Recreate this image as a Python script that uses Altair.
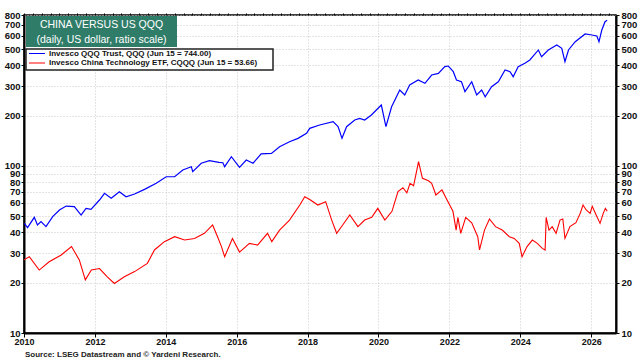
import altair as alt
import pandas as pd

# ---- data (decimal year, value) ----
qqq_years = [2010.01, 2010.10, 2010.29, 2010.38, 2010.48, 2010.62, 2010.81, 2011.00, 2011.19, 2011.42,
             2011.61, 2011.75, 2011.89, 2012.13, 2012.27, 2012.46, 2012.69, 2012.88, 2013.12, 2013.40,
             2013.73, 2014.01, 2014.25, 2014.48, 2014.72, 2014.76, 2015.00, 2015.23, 2015.50, 2015.61,
             2015.66, 2015.85, 2016.08, 2016.27, 2016.46, 2016.69, 2016.98, 2017.21, 2017.49, 2017.73,
             2017.97, 2018.06, 2018.34, 2018.72, 2018.86, 2018.97, 2019.10, 2019.33, 2019.47, 2019.61,
             2019.80, 2020.08, 2020.21, 2020.37, 2020.60, 2020.74, 2020.88, 2021.12, 2021.31, 2021.50,
             2021.69, 2021.87, 2021.97, 2022.11, 2022.20, 2022.34, 2022.44, 2022.63, 2022.77, 2022.91,
             2023.01, 2023.19, 2023.38, 2023.57, 2023.71, 2023.80, 2023.94, 2024.13, 2024.27, 2024.51,
             2024.60, 2024.79, 2025.03, 2025.17, 2025.26, 2025.36, 2025.55, 2025.83, 2026.02, 2026.16,
             2026.22, 2026.30, 2026.39, 2026.45]
qqq_values = [45.3, 42.7, 49.2, 44.3, 46.4, 43.3, 49.7, 54.5, 57.5, 57.0,
              50.8, 55.7, 55.0, 62.5, 68.5, 64.0, 70.1, 65.4, 67.9, 72.4,
              78.7, 86.1, 86.1, 94.5, 98.9, 92.3, 103.7, 107.5, 105.0, 104.5,
              98.9, 113.5, 98.1, 108.5, 103.7, 117.9, 118.9, 130.3, 139.6, 146.2,
              156.6, 167.8, 175.7, 183.9, 171.7, 146.2, 171.7, 188.2, 192.6, 188.2,
              201.7, 231.4, 171.7, 226.0, 284.5, 265.6, 304.8, 326.6, 312.0, 349.9,
              357.9, 392.6, 396.0, 366.3, 326.6, 319.0, 278.0, 319.0, 265.6, 284.5,
              259.4, 297.8, 319.0, 374.9, 366.3, 342.0, 392.6, 411.0, 430.5, 494.0,
              450.3, 494.0, 529.0, 505.4, 420.4, 494.0, 553.6, 615.7, 607.3, 599.0,
              553.6, 650.4, 729.5, 744.0]

cqqq_years = [2010.00, 2010.15, 2010.43, 2010.71, 2011.05, 2011.34, 2011.56, 2011.73, 2011.90, 2012.13,
              2012.35, 2012.55, 2012.83, 2013.12, 2013.48, 2013.68, 2013.96, 2014.25, 2014.53, 2014.81,
              2015.09, 2015.32, 2015.46, 2015.57, 2015.66, 2015.88, 2016.08, 2016.36, 2016.59, 2016.87,
              2016.99, 2017.21, 2017.49, 2017.78, 2017.92, 2018.06, 2018.29, 2018.51, 2018.68, 2018.82,
              2018.99, 2019.19, 2019.42, 2019.61, 2019.81, 2019.98, 2020.18, 2020.38, 2020.55, 2020.69,
              2020.80, 2020.89, 2020.99, 2021.13, 2021.24, 2021.41, 2021.50, 2021.62, 2021.79, 2021.96,
              2022.10, 2022.19, 2022.24, 2022.32, 2022.46, 2022.63, 2022.80, 2022.85, 2022.99, 2023.13,
              2023.30, 2023.49, 2023.69, 2023.83, 2023.97, 2024.05, 2024.19, 2024.34, 2024.48, 2024.62,
              2024.70, 2024.73, 2024.81, 2024.90, 2025.01, 2025.12, 2025.20, 2025.26, 2025.40, 2025.57,
              2025.69, 2025.77, 2025.86, 2025.97, 2026.03, 2026.14, 2026.25, 2026.34, 2026.40, 2026.45]
cqqq_values = [27.4, 28.6, 23.8, 26.7, 29.3, 32.9, 27.4, 20.8, 23.8, 24.3,
               21.7, 19.8, 21.7, 23.3, 26.1, 31.4, 35.2, 37.7, 36.0, 36.8,
               39.5, 44.3, 37.7, 32.9, 28.6, 36.8, 30.5, 34.4, 33.6, 39.5,
               35.2, 41.3, 47.4, 58.3, 65.4, 63.0, 58.3, 61.1, 47.4, 39.5,
               44.3, 50.8, 43.3, 47.4, 49.2, 55.7, 47.4, 53.5, 70.1, 74.0,
               69.0, 78.7, 76.0, 106.0, 84.3, 81.4, 78.6, 67.0, 71.8, 61.0,
               53.5, 41.3, 49.2, 39.5, 49.2, 45.7, 37.7, 31.4, 41.3, 48.1,
               43.3, 41.3, 37.7, 36.8, 34.4, 28.6, 32.9, 36.0, 34.4, 32.1,
               31.4, 49.2, 41.3, 43.3, 39.5, 47.4, 48.1, 36.8, 43.3, 45.7,
               52.0, 58.3, 54.5, 52.0, 57.3, 50.8, 45.3, 52.0, 55.7, 53.66]

year_ticks = [2010, 2012, 2014, 2016, 2018, 2020, 2022, 2024, 2026]
quarter_ticks = [2010 + q * 0.25 for q in range(0, 67)]
y_ticks = [10, 20, 30, 40, 50, 60, 70, 80, 90, 100, 200, 300, 400, 500, 600, 700, 800]

title_lines = ["CHINA VERSUS US QQQ", "(daily, US dollar, ratio scale)"]
legend_labels = ["Invesco QQQ Trust, QQQ (Jun 15 = 744.00)",
                 "Invesco China Technology ETF, CQQQ (Jun 15 = 53.66)"]
source_text = "Source: LSEG Datastream and \u00a9 Yardeni Research."

FONT = "Liberation Sans"

qqq = pd.DataFrame({"year": qqq_years, "value": qqq_values})
cqqq = pd.DataFrame({"year": cqqq_years, "value": cqqq_values})

xscale = alt.Scale(domain=[2010, 2026.7], nice=False, zero=False)
yscale = alt.Scale(type="log", domain=[10, 800], nice=False)

major_x = alt.Axis(values=year_ticks, format="d", title=None, grid=True,
                   gridColor="#c8c8c8", gridDash=[1, 2], gridWidth=1,
                   domainColor="black", domainWidth=2, tickColor="black", tickSize=4,
                   labelFont=FONT, labelFontSize=9, labelFontWeight="bold",
                   labelColor="#111", labelPadding=0, labelFlush=False, labelOverlap=False)
minor_x = alt.Axis(values=quarter_ticks, labels=False, title=None, grid=False,
                   domain=False, tickColor="black", tickSize=2, ticks=True)
left_y = alt.Axis(values=y_ticks, format="d", title=None, grid=True, orient="left",
                  gridColor="#c8c8c8", gridDash=[1, 2], gridWidth=1,
                  domainColor="black", domainWidth=2, tickColor="black", tickSize=3,
                  labelFont=FONT, labelFontSize=9.5, labelFontWeight="bold",
                  labelColor="#111", labelPadding=1, labelOverlap=False, labelFlush=False)
right_y = alt.Axis(values=y_ticks, format="d", title=None, grid=False, orient="right",
                   domainColor="black", domainWidth=2, tickColor="black", tickSize=3,
                   labelFont=FONT, labelFontSize=9.5, labelFontWeight="bold",
                   labelColor="#111", labelPadding=2, labelOverlap=False, labelFlush=False)

blue = alt.Chart(qqq).mark_line(color="#0000ff", strokeWidth=1.2).encode(
    x=alt.X("year:Q", scale=xscale, axis=major_x),
    y=alt.Y("value:Q", scale=yscale, axis=left_y),
)
red = alt.Chart(cqqq).mark_line(color="#ff0000", strokeWidth=1.1).encode(
    x=alt.X("year:Q", scale=xscale, axis=minor_x),
    y=alt.Y("value:Q", scale=yscale, axis=right_y),
)

one = pd.DataFrame({"k": [0]})

title_box = alt.Chart(one).mark_rect(color="#2f7d69").encode(
    x=alt.value(2), x2=alt.value(153), y=alt.value(1), y2=alt.value(32))
title1 = alt.Chart(one).mark_text(text=title_lines[0], color="white", font=FONT,
                                  fontSize=10.5, align="center", baseline="middle").encode(
    x=alt.value(77.5), y=alt.value(10))
title2 = alt.Chart(one).mark_text(text=title_lines[1], color="white", font=FONT,
                                  fontSize=10.5, align="center", baseline="middle").encode(
    x=alt.value(77.5), y=alt.value(24.5))

legend_box = alt.Chart(one).mark_rect(fill="white", stroke="#222", strokeWidth=1.5).encode(
    x=alt.value(2), x2=alt.value(249), y=alt.value(34), y2=alt.value(55))
leg_blue = alt.Chart(one).mark_rule(color="#0000ff", strokeWidth=1).encode(
    x=alt.value(5), x2=alt.value(21), y=alt.value(38.5))
leg_red = alt.Chart(one).mark_rule(color="#ff0000", strokeWidth=1).encode(
    x=alt.value(5), x2=alt.value(21), y=alt.value(48))
leg_t1 = alt.Chart(one).mark_text(text=legend_labels[0], color="#111", font=FONT,
                                  fontSize=8, fontWeight="bold", align="left",
                                  baseline="middle").encode(x=alt.value(25), y=alt.value(38.5))
leg_t2 = alt.Chart(one).mark_text(text=legend_labels[1], color="#111", font=FONT,
                                  fontSize=8, fontWeight="bold", align="left",
                                  baseline="middle").encode(x=alt.value(25), y=alt.value(48))

source = alt.Chart(one).mark_text(text=source_text, color="#222", font=FONT, fontSize=8,
                                  fontWeight="bold", align="left", baseline="middle").encode(
    x=alt.value(1), y=alt.value(340))

chart = alt.layer(
    blue, red, title_box, title1, title2, legend_box, leg_blue, leg_red, leg_t1, leg_t2, source
).resolve_scale(x="shared", y="shared").resolve_axis(x="independent", y="independent").properties(
    width=592, height=318,
    padding={"left": 24, "top": 15, "right": 24, "bottom": 29},
    autosize=alt.AutoSizeParams(type="none"),
    background="white",
).configure_view(stroke="black", strokeWidth=1.5)

chart.save("out.html", embed_options={"renderer": "svg", "actions": False})
